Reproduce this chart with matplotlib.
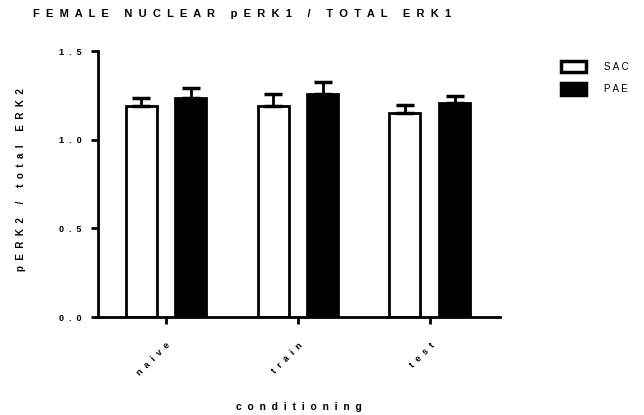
import matplotlib.pyplot as plt
import numpy as np
from matplotlib.patches import Patch

plt.rcParams['font.family'] = ['Liberation Sans', 'DejaVu Sans']

categories = ['naive', 'train', 'test']
sac_means = [1.19, 1.19, 1.15]
sac_err = [0.045, 0.07, 0.045]
pae_means = [1.235, 1.26, 1.207]
pae_err = [0.055, 0.065, 0.04]


def spaced(s, gap='  '):
    # letter-spaced text, words split by wider gap
    return '     '.join(gap.join(w) for w in s.split(' '))


fig = plt.figure(figsize=(6.44, 4.15), dpi=100)
ax = fig.add_axes([0.152, 0.236, 0.624, 0.641])

x = np.arange(len(categories))
w = 0.235
ax.bar(x - 0.188, sac_means, w, color='white', edgecolor='black', linewidth=2,
       yerr=[np.zeros(3), sac_err], capsize=6.5,
       error_kw=dict(elinewidth=2, capthick=2.5, ecolor='black'), zorder=2)
ax.bar(x + 0.19, pae_means, w, color='black', edgecolor='black', linewidth=2,
       yerr=[np.zeros(3), pae_err], capsize=6.5,
       error_kw=dict(elinewidth=2, capthick=2.5, ecolor='black'), zorder=2)

ax.set_xlim(-0.515, 2.53)
ax.set_ylim(0, 1.5)
ax.set_yticks([0, 0.5, 1.0, 1.5])
ax.set_yticklabels([spaced(t) for t in ['0.0', '0.5', '1.0', '1.5']],
                   fontsize=6.5, fontweight='bold')
ax.set_xticks(x)
ax.set_xticklabels([spaced(c) for c in categories], rotation=45, ha='right',
                   rotation_mode='anchor', fontsize=6.5, fontweight='bold')
ax.tick_params(axis='x', length=5, width=2, pad=12)
ax.tick_params(axis='y', length=5, width=2, pad=7)

for s in ['top', 'right']:
    ax.spines[s].set_visible(False)
for s in ['left', 'bottom']:
    ax.spines[s].set_linewidth(2)

ax.set_ylabel(spaced('pERK2 / total ERK2'), fontsize=7, fontweight='bold')
ax.yaxis.set_label_coords(-0.18, 0.515)
ax.set_xlabel(spaced('conditioning'), fontsize=7.5, fontweight='bold')
ax.xaxis.set_label_coords(0.5, -0.32)

fig.text(0.051, 0.966, spaced('FEMALE NUCLEAR pERK1 / TOTAL ERK1'),
         fontsize=8, fontweight='bold', ha='left', va='center')

handles = [Patch(facecolor='white', edgecolor='black', linewidth=2.5),
           Patch(facecolor='black', edgecolor='black', linewidth=2.5)]
fig.legend(handles, [spaced('SAC', ' '), spaced('PAE', ' ')], loc='upper left',
           bbox_to_anchor=(0.857, 0.875), frameon=False, fontsize=7,
           handlelength=2.6, handleheight=1.5, labelspacing=1.1, handletextpad=1.9)

plt.savefig('out.png', dpi=100)
